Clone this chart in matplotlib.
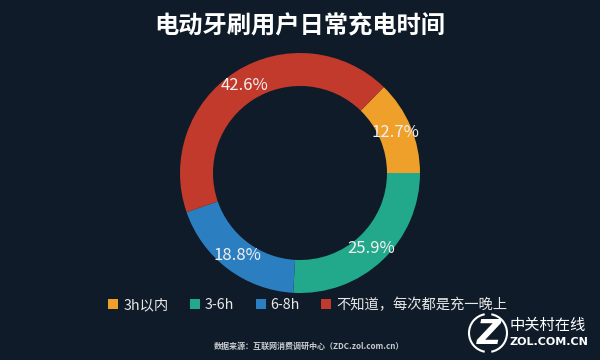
import matplotlib
matplotlib.use('Agg')
import matplotlib.pyplot as plt
from matplotlib.patches import Arc

plt.rcParams['font.family'] = ['Noto Sans CJK SC', 'DejaVu Sans']

title = '电动牙刷用户日常充电时间'
labels = ['3h以内', '3-6h', '6-8h', '不知道，每次都是充一晚上']
shares = [12.7, 25.9, 18.8, 42.6]
colors = ['#EEA02A', '#22A98B', '#2B7FC1', '#C13A2C']
source = '数据来源：互联网消费调研中心（ZDC.zol.com.cn）'

bg = '#0F1B28'

fig = plt.figure(figsize=(6, 3.6), dpi=100, facecolor=bg)
ax = fig.add_axes([0, 0, 1, 1])
ax.axis('off')
ax.set_facecolor(bg)

wedges, texts, pcts = ax.pie(
    shares, colors=colors, center=(300, 187), radius=120,
    startangle=360 * shares[0] / 100, counterclock=False,
    wedgeprops=dict(width=33, linewidth=0),
    autopct='%.1f%%', pctdistance=0.86,
    textprops=dict(color='#F4F0F0', fontsize=12))
ax.set_xlim(0, 600)
ax.set_ylim(0, 360)
ax.set_aspect('equal')

ax.text(300, 334, title, ha='center', va='center', color='white',
        fontsize=17.5, fontweight='bold')

ax.legend(wedges, labels, loc='center', bbox_to_anchor=(0.513, 0.152),
          ncol=4, frameon=False, fontsize=10.3, labelcolor='#E8E8E8',
          handlelength=0.7, handleheight=0.7, handletextpad=0.35,
          columnspacing=1.5)

ax.text(309, 14, source, ha='center', va='center', color='#C8CCD0',
        fontsize=5.8, fontweight='bold')

# logo
ax.add_patch(Arc((488, 27), 38, 38, theta1=100, theta2=260, color='white', lw=1.5))
ax.add_patch(Arc((488, 27), 38, 38, theta1=-80, theta2=80, color='white', lw=1.5))
ax.text(489, 26, 'Z', ha='center', va='center', color='white', fontsize=24,
        fontweight='bold', fontstyle='italic', family='DejaVu Sans')
ax.text(510, 35, '中关村在线', ha='left', va='center', color='white', fontsize=11)
ax.text(510, 18, 'ZOL.COM.CN', ha='left', va='center', color='white', fontsize=8,
        fontweight='bold', family='DejaVu Sans')

fig.savefig('out.png', dpi=100, facecolor=bg)
